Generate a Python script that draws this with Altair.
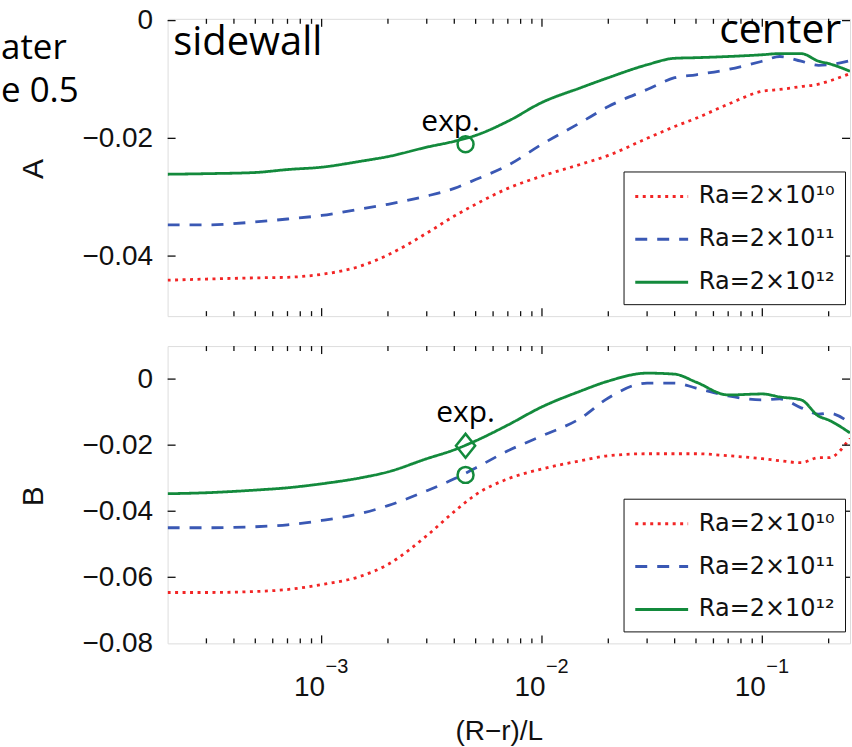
import altair as alt
import pandas as pd

# ---------------- data ----------------
x_vals = [2e-4, 3e-4, 5e-4, 7e-4, 1e-3, 1.5e-3, 2e-3, 3e-3, 4e-3, 5e-3, 7e-3,
          1e-2, 1.5e-2, 2e-2, 3e-2, 4e-2, 5e-2, 7e-2, 0.1, 0.12, 0.15, 0.18, 0.2, 0.25]
series = ["Ra=2×10¹⁰", "Ra=2×10¹¹", "Ra=2×10¹²"]
colors = ["#f22525", "#3a58b4", "#138a3c"]
dashes = [[3, 4.5], [12, 10], [1, 0]]

A_red = [-0.0441, -0.0439, -0.0437, -0.0436, -0.0431, -0.0417, -0.0398, -0.0361, -0.0332, -0.0312, -0.0285,
         -0.0264, -0.0244, -0.0229, -0.0200, -0.0180, -0.0166, -0.0142, -0.0120, -0.0117, -0.0112, -0.0108, -0.0103, -0.0090]
A_blue = [-0.0347, -0.0347, -0.0342, -0.0337, -0.0331, -0.0320, -0.0312, -0.0298, -0.0285, -0.0270, -0.0246,
          -0.0210, -0.0173, -0.0146, -0.0117, -0.0097, -0.0092, -0.0083, -0.0069, -0.0061, -0.0069, -0.0076, -0.0075, -0.0068]
A_green = [-0.0261, -0.0260, -0.0258, -0.0253, -0.0249, -0.0239, -0.0231, -0.0215, -0.0205, -0.0195, -0.0171,
           -0.0139, -0.0114, -0.0097, -0.0075, -0.0064, -0.0063, -0.0061, -0.0058, -0.0056, -0.0056, -0.0069, -0.0073, -0.0086]

B_red = [-0.0646, -0.0646, -0.0643, -0.0637, -0.0622, -0.0597, -0.0561, -0.0474, -0.0401, -0.0350, -0.0302,
         -0.0272, -0.0247, -0.0232, -0.0226, -0.0226, -0.0226, -0.0232, -0.0241, -0.0247, -0.0253, -0.0238, -0.0238, -0.0178]
B_blue = [-0.0450, -0.0450, -0.0447, -0.0441, -0.0428, -0.0407, -0.0383, -0.0338, -0.0302, -0.0269, -0.0217,
          -0.0172, -0.0118, -0.0057, -0.0012, -0.0012, -0.0027, -0.0051, -0.0063, -0.0060, -0.0087, -0.0106, -0.0103, -0.0133]
B_green = [-0.0347, -0.0344, -0.0336, -0.0329, -0.0317, -0.0299, -0.0281, -0.0241, -0.0214, -0.0187, -0.0139,
           -0.0084, -0.0036, -0.0006, 0.0018, 0.0015, -0.0009, -0.0048, -0.0045, -0.0054, -0.0063, -0.0112, -0.0124, -0.0163]

x_major = [1e-3, 1e-2, 1e-1]
x_exp = ["−3", "−2", "−1"]
x_minor = [3e-4, 4e-4, 5e-4, 6e-4, 7e-4, 8e-4, 9e-4,
           2e-3, 3e-3, 4e-3, 5e-3, 6e-3, 7e-3, 8e-3, 9e-3,
           2e-2, 3e-2, 4e-2, 5e-2, 6e-2, 7e-2, 8e-2, 9e-2, 2e-1]
A_labels = [0, -0.02, -0.04]
B_labels = [0, -0.02, -0.04, -0.06, -0.08]
A_ticks = [0, -0.02, -0.04]
B_ticks = [0, -0.02, -0.04, -0.06]

A_circle_x, A_circle_y = [4.5e-3], [-0.021]
B_diamond_x, B_diamond_y = [4.5e-3], [-0.0202]
B_circle_x, B_circle_y = [4.5e-3], [-0.029]

# ---------------- styling ----------------
W, H = 684, 298
FONT = "Liberation Sans"
LEGFONT = "DejaVu Sans"
HAND = "Open Sans"
INK = "#111111"
GREEN = colors[2]
xs = alt.Scale(type="log", domain=[2e-4, 0.25], nice=False)


def panel(label, vals, ydom, ylabels, yticks, bottom_labels):
    ys = alt.Scale(domain=ydom, nice=False, zero=False)
    rows = []
    for name, yv_list in zip(series, vals):
        for xv, yv in zip(x_vals, yv_list):
            rows.append({"x": xv, "y": yv, "series": name})
    df = pd.DataFrame(rows)

    leg = alt.Legend(orient="none", legendX=457, legendY=153, title=None,
                     symbolType="M-1,0H3", symbolSize=702, symbolStrokeWidth=3,
                     labelFont=LEGFONT, labelFontSize=24, labelColor=INK,
                     labelOffset=35.5, padding=10, rowPadding=16,
                     strokeColor=INK, fillColor="white")

    if bottom_labels:
        xaxis = alt.Axis(values=x_major, labelExpr="'10'", tickSize=0, domain=False,
                         grid=False, labelFont=FONT, labelFontSize=28, labelColor=INK,
                         labelAlign="right", labelOffset=3, labelBaseline="alphabetic",
                         labelPadding=52, labelFlush=False, labelOverlap=False,
                         title="(R−r)/L", titleFont=FONT, titleFontSize=28,
                         titleFontWeight="normal", titleColor=INK, titleX=332, titleY=96,
                         titleBaseline="alphabetic", titleAlign="center")
    else:
        xaxis = None

    yaxis = alt.Axis(values=ylabels,
                     labelExpr="datum.value == 0 ? '0' : format(datum.value, '.2f')",
                     tickSize=0, domain=False, grid=False, labelFont=FONT,
                     labelFontSize=28, labelColor=INK, labelPadding=15,
                     labelFlush=False, labelOverlap=False,
                     title=label, titleFont=FONT, titleFontSize=30,
                     titleFontWeight="normal", titleColor=INK, titleX=-134, titleY=150,
                     titleAngle=270, titleAlign="center", titleBaseline="middle")

    X = lambda: alt.X("x:Q", scale=xs, axis=xaxis)
    Y = lambda: alt.Y("y:Q", scale=ys, axis=yaxis)

    lines = alt.Chart(df).mark_line(strokeWidth=2.8, clip=True, interpolate="monotone").encode(
        x=X(), y=Y(),
        color=alt.Color("series:N", scale=alt.Scale(domain=series, range=colors), legend=leg),
        strokeDash=alt.StrokeDash("series:N", scale=alt.Scale(domain=series, range=dashes), legend=leg),
    )

    def xt(v, length, top):
        d = pd.DataFrame({"x": v})
        return alt.Chart(d).mark_rule(color=INK, strokeWidth=1.3).encode(
            x=X(), y=alt.value(0 if top else H), y2=alt.value(length if top else H - length))

    def yt(v, length, left):
        d = pd.DataFrame({"y": v})
        return alt.Chart(d).mark_rule(color=INK, strokeWidth=1.3).encode(
            y=Y(), x=alt.value(0 if left else W), x2=alt.value(length if left else W - length))

    def text_layer(txt, xv, yv, size, align):
        d = pd.DataFrame({"x": [xv], "y": [yv], "t": [txt]})
        return alt.Chart(d).mark_text(font=HAND, fontSize=size, align=align,
                                      baseline="alphabetic", color="black").encode(
            x=X(), y=Y(), text="t:N")

    def marker_layer(xv, yv, shape, size):
        d = pd.DataFrame({"x": xv, "y": yv})
        return alt.Chart(d).mark_point(shape=shape, size=size, filled=False,
                                       strokeWidth=2.5, color=GREEN, opacity=1).encode(
            x=X(), y=Y())

    layers = [lines,
              xt(x_major, 8, True), xt(x_major, 8, False),
              xt(x_minor, 5, True), xt(x_minor, 5, False),
              yt(yticks, 8, True), yt(yticks, 8, False)]
    return layers, X, text_layer, marker_layer


# ---------------- top panel (A) ----------------
top_layers, XA, textA, markA = panel("A", [A_red, A_blue, A_green], [-0.0502, 0.0003],
                                     A_labels, A_ticks, False)
top_layers += [
    markA(A_circle_x, A_circle_y, "circle", 256),
    textA("sidewall", 2.12e-4, -0.00576, 40, "left"),
    textA("center", 0.2278, -0.00373, 41, "right"),
    textA("exp.", 2.835e-3, -0.0188, 30, "left"),
]
side = pd.DataFrame({"t": ["ater"]})
side2 = pd.DataFrame({"t": ["e 0.5"]})
top_layers += [
    alt.Chart(side).mark_text(font=HAND, fontSize=35, align="left", baseline="alphabetic",
                              color="black").encode(x=alt.value(-167), y=alt.value(40), text="t:N"),
    alt.Chart(side2).mark_text(font=HAND, fontSize=35, align="left", baseline="alphabetic",
                               color="black").encode(x=alt.value(-167), y=alt.value(83), text="t:N"),
]
top = alt.layer(*top_layers).properties(width=W, height=H)

# ---------------- bottom panel (B) ----------------
bot_layers, XB, textB, markB = panel("B", [B_red, B_blue, B_green], [-0.08, 0.01],
                                     B_labels, B_ticks, True)
sup = pd.DataFrame({"x": x_major, "t": x_exp})
bot_layers += [
    markB(B_diamond_x, B_diamond_y, "M0,-1L0.8,0L0,1L-0.8,0Z", 576),
    markB(B_circle_x, B_circle_y, "circle", 256),
    textB("exp.", 3.315e-3, -0.0130, 30, "left"),
    alt.Chart(sup).mark_text(font=FONT, fontSize=20, align="left", baseline="alphabetic",
                             dx=4, color=INK).encode(x=XB(), y=alt.value(H + 30), text="t:N"),
]
bottom = alt.layer(*bot_layers).properties(width=W, height=H)

chart = (
    alt.vconcat(top, bottom, spacing=30, bounds="flush")
    .resolve_scale(color="independent", strokeDash="independent")
    .resolve_legend(color="independent", strokeDash="independent")
    .properties(padding={"left": 0, "top": 5, "right": 0, "bottom": 0}, background="white")
    .configure_view(stroke=INK, strokeWidth=1.5)
    .configure(font=FONT)
)

chart.save("out.html", embed_options={"renderer": "svg", "actions": False})
